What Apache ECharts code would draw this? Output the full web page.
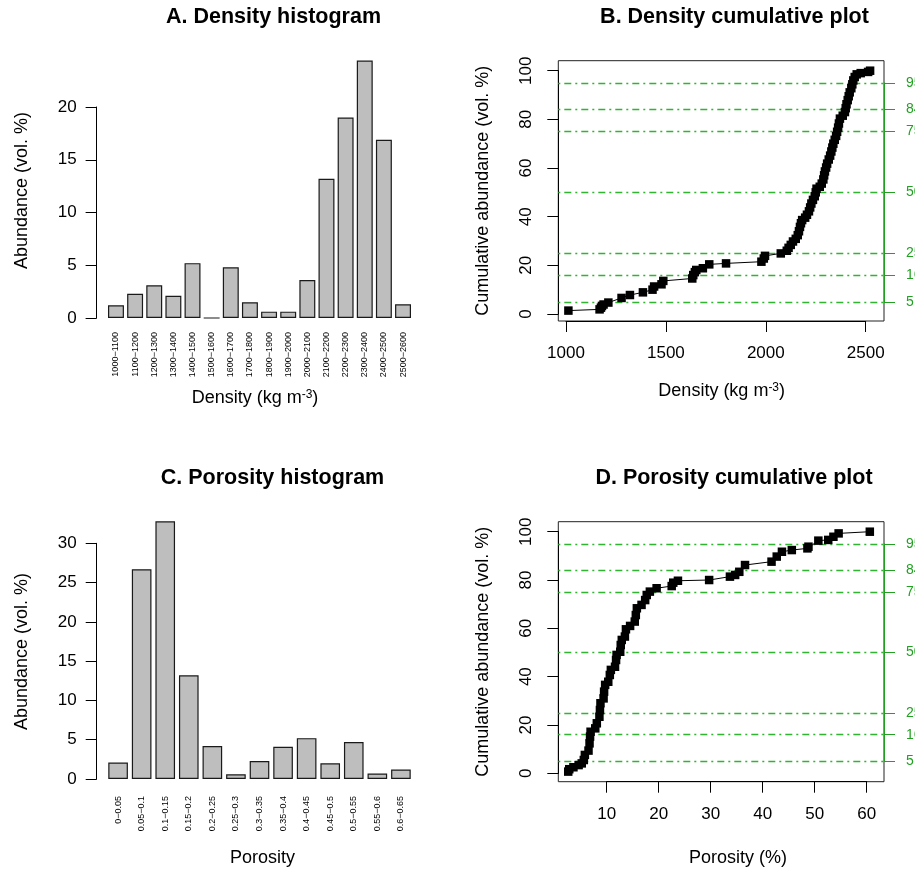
<!DOCTYPE html>
<html lang="en">
<head>
<meta charset="UTF-8">
<title>Density and porosity</title>
<script src="https://cdn.jsdelivr.net/npm/echarts@6.0.0/dist/echarts.min.js"></script>
<style>
  html, body { margin: 0; padding: 0; background: #fff; }
  #main { width: 915px; height: 869px; }
</style>
</head>
<body>
<div id="main"></div>
<script>
// ---- values ----
const densityBins = ['1000−1100', '1100−1200', '1200−1300', '1300−1400', '1400−1500', '1500−1600',
  '1600−1700', '1700−1800', '1800−1900', '1900−2000', '2000−2100', '2100−2200', '2200−2300',
  '2300−2400', '2400−2500', '2500−2600'];
const densityAbund = [1.2, 2.3, 3.1, 2.1, 5.2, 0, 4.8, 1.5, 0.6, 0.6, 3.6, 13.2, 19.0, 24.4, 16.9, 1.3];

const porosityBins = ['0−0.05', '0.05−0.1', '0.1−0.15', '0.15−0.2', '0.2−0.25', '0.25−0.3', '0.3−0.35',
  '0.35−0.4', '0.4−0.45', '0.45−0.5', '0.5−0.55', '0.55−0.6', '0.6−0.65'];
const porosityAbund = [2.1, 26.7, 32.8, 13.2, 4.2, 0.6, 2.3, 4.1, 5.2, 2.0, 4.7, 0.7, 1.2];

// cumulative curves: [value, cumulative vol. %]
const densityCum = [[1012, 1.4], [1168, 1.9], [1175, 2.6], [1180, 3.3], [1188, 3.9], [1212, 4.7], [1278, 6.6],
  [1320, 7.8], [1385, 8.9], [1433, 10.0], [1441, 11.3], [1478, 12.2], [1487, 13.6], [1632, 14.6], [1637, 16.0],
  [1645, 17.2], [1652, 18.1], [1685, 18.8], [1717, 20.4], [1801, 20.8], [1978, 21.5], [1990, 22.8], [1996, 23.9],
  [2075, 24.9], [2105, 26.0], [2114, 27.2], [2125, 28.4], [2136, 29.8], [2150, 30.9], [2160, 32.4], [2166, 34.0],
  [2171, 35.8], [2176, 37.3], [2182, 38.6], [2197, 39.6], [2206, 40.8], [2216, 42.2], [2222, 43.8], [2228, 45.4],
  [2236, 46.9], [2245, 48.4], [2250, 50.0], [2254, 51.5], [2270, 52.3], [2280, 53.6], [2288, 55.3], [2292, 57.0],
  [2296, 58.6], [2302, 60.2], [2307, 61.8], [2315, 63.5], [2322, 65.1], [2328, 66.8], [2333, 68.4], [2338, 70.0],
  [2345, 71.6], [2352, 73.2], [2357, 74.9], [2362, 76.6], [2366, 78.3], [2371, 80.3], [2385, 81.5], [2396, 83.0],
  [2400, 84.6], [2404, 86.2], [2410, 87.9], [2415, 89.5], [2420, 91.1], [2428, 92.8], [2433, 94.4], [2438, 96.0],
  [2445, 97.4], [2455, 98.5], [2475, 99.0], [2512, 99.5], [2522, 100]];
const porosityCum = [[2.6, 0.7], [2.8, 1.7], [3.6, 2.5], [4.6, 3.4], [5.2, 4.1], [5.6, 5.5], [5.8, 7.6], [6.5, 9.4],
  [6.7, 12.4], [6.8, 15.2], [6.9, 17.2], [7.8, 18.6], [8.1, 20.7], [8.6, 23.4], [8.7, 26.2], [8.8, 29.0], [9.4, 31.0],
  [9.5, 33.8], [9.7, 36.6], [10.3, 37.9], [10.6, 40.7], [10.8, 42.8], [11.6, 44.1], [11.8, 46.9], [11.9, 49.0],
  [12.6, 50.3], [12.7, 53.1], [12.9, 55.2], [13.5, 56.6], [13.7, 59.6], [14.5, 61.0], [15.4, 62.8], [15.6, 65.5],
  [15.8, 68.3], [16.7, 69.7], [17.4, 71.7], [17.7, 73.8], [18.3, 75.2], [19.6, 76.6], [22.5, 77.5], [22.8, 78.9],
  [23.7, 79.7], [29.7, 80.0], [33.7, 81.4], [34.7, 82.1], [35.5, 83.4], [36.6, 86.2], [41.7, 87.6], [42.7, 89.7],
  [43.7, 91.7], [45.6, 92.4], [48.6, 93.1], [48.8, 93.8], [50.7, 96.3], [52.6, 96.6], [53.6, 97.9], [54.6, 99.3],
  [60.6, 100]];

const percentiles = [5, 16, 25, 50, 75, 84, 95];
const densityHistTicks = [0, 5, 10, 15, 20];
const porosityHistTicks = [0, 5, 10, 15, 20, 25, 30];
const cumTicks = [0, 20, 40, 60, 80, 100];
const densityTicks = [1000, 1500, 2000, 2500];
const porosityTicks = [10, 20, 30, 40, 50, 60];

// ---- layout ----
const FONT = 'Liberation Sans, Arial, Helvetica, sans-serif';
const GREEN = '#22a022';

// pixel anchors of two tick values per axis
const aY = { v0: 0, p0: 318, v1: 20, p1: 107 };
const cY = { v0: 0, p0: 779, v1: 30, p1: 543.3 };
const bX = { v0: 1000, p0: 566, v1: 2500, p1: 865.7 };
const bY = { v0: 0, p0: 314, v1: 100, p1: 70.7 };
const dX = { v0: 10, p0: 606.7, v1: 60, p1: 866.7 };
const dY = { v0: 0, p0: 773.3, v1: 100, p1: 531.7 };

function toPx(a, v) { return a.p0 + (v - a.v0) * (a.p1 - a.p0) / (a.v1 - a.v0); }
function toVal(a, p) { return a.v0 + (p - a.p0) * (a.v1 - a.v0) / (a.p1 - a.p0); }

const grids = [], xAxes = [], yAxes = [], series = [];

function addGrid(g, xa, ya) {
  const i = grids.length;
  grids.push(Object.assign({ outerBoundsMode: 'none', containLabel: false }, g));
  xAxes.push(Object.assign({ gridIndex: i }, xa));
  yAxes.push(Object.assign({ gridIndex: i }, ya));
  return i;
}

const hiddenValue = { type: 'value', show: false, axisLine: { onZero: false } };
const plain = v => String(v);

// R style axis: line only runs from first to last tick
function yStrip(x, ticks, anchor, o) {
  const lo = o.min !== undefined ? o.min : ticks[0];
  const hi = o.max !== undefined ? o.max : ticks[ticks.length - 1];
  const t = toPx(anchor, hi), b = toPx(anchor, lo);
  addGrid({ left: o.right ? x - 1 : x, top: t, width: 1, height: b - t },
    hiddenValue,
    {
      type: 'value', min: lo, max: hi, position: o.right ? 'right' : 'left',
      axisLine: { show: true, onZero: false, lineStyle: { color: o.color, width: 1 } },
      axisTick: { show: true, length: 11, customValues: ticks, lineStyle: { color: o.color, width: 1 } },
      axisLabel: { customValues: ticks, margin: o.margin, rotate: o.rotate || 0, color: o.color,
        fontSize: o.fontSize, fontFamily: FONT, formatter: plain },
      splitLine: { show: false }
    });
}

function xStrip(y, ticks, anchor) {
  const l = toPx(anchor, ticks[0]), r = toPx(anchor, ticks[ticks.length - 1]);
  addGrid({ left: l, width: r - l, top: y - 1, height: 1 },
    {
      type: 'value', min: ticks[0], max: ticks[ticks.length - 1], position: 'bottom',
      axisLine: { show: true, onZero: false, lineStyle: { color: '#000', width: 1 } },
      axisTick: { show: true, length: 11, customValues: ticks, lineStyle: { color: '#000', width: 1 } },
      axisLabel: { customValues: ticks, margin: 24, color: '#000', fontSize: 17, fontFamily: FONT, formatter: plain },
      splitLine: { show: false }
    },
    hiddenValue);
}

function histogram(cats, vals, ticks, anchor, axisX, left, width, top, bottom, labelMargin) {
  const i = addGrid({ left: left, width: width, top: top, height: bottom - top },
    {
      type: 'category', data: cats,
      axisLine: { show: false, onZero: false }, axisTick: { show: false },
      axisLabel: { interval: 0, rotate: 90, margin: labelMargin, fontSize: 9, color: '#000', fontFamily: FONT }
    },
    { type: 'value', show: false, min: toVal(anchor, bottom), max: toVal(anchor, top), axisLine: { onZero: false } });
  series.push({
    type: 'bar', xAxisIndex: i, yAxisIndex: i, data: vals, barWidth: '83.3%', silent: true,
    itemStyle: { color: '#bebebe', borderColor: '#1a1a1a', borderWidth: 1.2 }
  });
  yStrip(axisX, ticks, anchor, { color: '#000', margin: 20, fontSize: 17 });
}

function cumulative(pts, box, xa, ya, xTicks) {
  const i = addGrid({
      left: box.l, top: box.t, width: box.r - box.l, height: box.b - box.t,
      show: true, borderColor: '#222', borderWidth: 1, backgroundColor: 'transparent'
    },
    { type: 'value', show: false, min: toVal(xa, box.l), max: toVal(xa, box.r), axisLine: { onZero: false } },
    { type: 'value', show: false, min: toVal(ya, box.b), max: toVal(ya, box.t), axisLine: { onZero: false } });
  const dash = { color: '#2fb52f', width: 1.4, type: [2, 4, 7, 4], opacity: 1 };
  series.push({
    type: 'line', xAxisIndex: i, yAxisIndex: i, data: pts, silent: true,
    symbol: 'rect', symbolSize: 8.5, showAllSymbol: true, z: 3,
    itemStyle: { color: '#000' }, lineStyle: { color: '#000', width: 1 },
    markLine: {
      silent: true, symbol: 'none', label: { show: false }, z: 2,
      lineStyle: dash,
      emphasis: { disabled: true },
      data: percentiles.map(p => ({ yAxis: p, lineStyle: dash }))
    }
  });
  yStrip(box.l, cumTicks, ya, { color: '#000', margin: 23, fontSize: 17, rotate: 90 });
  xStrip(box.b, xTicks, xa);
  yStrip(box.r, percentiles, ya, { color: GREEN, margin: 22, fontSize: 14, right: true, min: 5, max: 95 });
}

histogram(densityBins, densityAbund, densityHistTicks, aY, 96.6, 106.4, 306.2, 50, 329, 3);
histogram(porosityBins, porosityAbund, porosityHistTicks, cY, 96.7, 106.3, 306.4, 511, 790, 6);
cumulative(densityCum, { l: 558.3, r: 884, t: 60.7, b: 321 }, bX, bY, densityTicks);
cumulative(porosityCum, { l: 558.3, r: 884, t: 521.7, b: 781.7 }, dX, dY, porosityTicks);

function txt(text, x, y, size, opts) {
  opts = opts || {};
  const style = { text: text, fontSize: size, fontFamily: FONT, fill: '#000', align: 'center', verticalAlign: 'middle',
    fontWeight: opts.bold ? 'bold' : 'normal' };
  if (opts.rich) style.rich = opts.rich;
  return { type: 'text', x: x, y: y, rotation: opts.rot ? Math.PI / 2 : 0, silent: true, style: style };
}
const supRich = {
  a: { fontSize: 18, fontFamily: FONT, fill: '#000' },
  s: { fontSize: 12, fontFamily: FONT, fill: '#000', verticalAlign: 'top' }
};
const densityLabel = '{a|Density (kg m}{s|-3}{a|)}';

const graphics = [
  txt('A. Density histogram', 273.5, 17, 21.5, { bold: true }),
  txt('B. Density cumulative plot', 734.5, 17, 21.5, { bold: true }),
  txt('C. Porosity histogram', 272.5, 478, 21.5, { bold: true }),
  txt('D. Porosity cumulative plot', 734, 478, 21.5, { bold: true }),
  txt('Abundance (vol. %)', 22.5, 190.5, 18, { rot: true }),
  txt('Abundance (vol. %)', 22.5, 651.5, 18, { rot: true }),
  txt('Cumulative abundance (vol. %)', 483.3, 190.8, 18, { rot: true }),
  txt('Cumulative abundance (vol. %)', 483.3, 651.7, 18, { rot: true }),
  txt(densityLabel, 255, 398, 18, { rich: supRich }),
  txt(densityLabel, 721.7, 391, 18, { rich: supRich }),
  txt('Porosity', 262.5, 858, 18),
  txt('Porosity (%)', 738, 858, 18)
];

const options = {
  animation: false,
  backgroundColor: '#fff',
  textStyle: { fontFamily: FONT },
  grid: grids,
  xAxis: xAxes,
  yAxis: yAxes,
  series: series,
  graphic: graphics
};

let myChart = echarts.init(document.getElementById('main'), null, { renderer: 'canvas' });
myChart.setOption(options);
</script>
</body>
</html>
